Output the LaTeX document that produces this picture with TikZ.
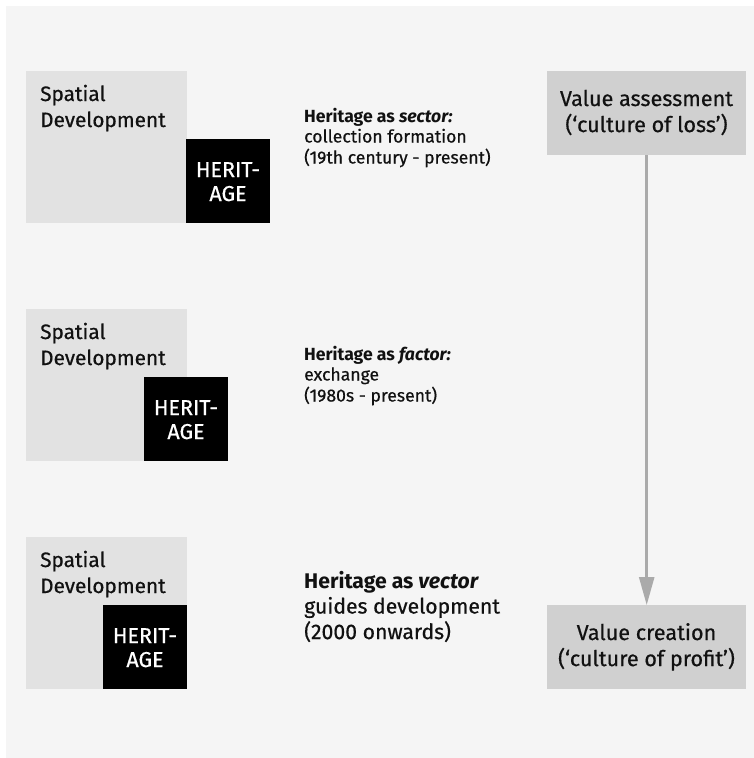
\documentclass[tikz,border=0pt]{standalone}
\usepackage{fontspec}
\setmainfont{Fira Sans}[UprightFeatures={FakeBold=0.6},ItalicFeatures={FakeBold=0.6}]
\usetikzlibrary{arrows.meta}
\definecolor{bgc}{HTML}{F5F5F5}
\definecolor{spc}{HTML}{E2E2E2}
\definecolor{valc}{HTML}{D0D0D0}
\definecolor{arrc}{HTML}{AAAAAA}
\definecolor{txtc}{HTML}{111111}
\newcommand\mlines[2]{\begin{tabular}[t]{@{}#1@{}}#2\end{tabular}}
\begin{document}
\begin{tikzpicture}[x=1pt,y=-1pt,
  spbox/.style={fill=spc,draw=none,minimum width=161pt,minimum height=152pt,inner sep=0pt,anchor=north west},
  herbox/.style={fill=black,draw=none,minimum width=84pt,minimum height=84pt,inner sep=0pt,anchor=north west},
  valbox/.style={fill=valc,draw=none,minimum width=199pt,minimum height=84pt,inner sep=0pt,anchor=north west},
  sptext/.style={anchor=base west,inner sep=0pt,text=txtc,font=\fontsize{20.8}{26}\selectfont},
  hertext/.style={anchor=base,inner sep=0pt,text=white,font=\fontsize{21.5}{24}\selectfont},
  smalltext/.style={anchor=base west,inner sep=0pt,text=txtc,font=\fontsize{17.6}{20.5}\selectfont},
  bigtext/.style={anchor=base west,inner sep=0pt,text=txtc,font=\fontsize{21.2}{25.5}\selectfont},
  valtext/.style={anchor=base,inner sep=0pt,text=txtc,font=\fontsize{21.6}{26}\selectfont},
  flow/.style={draw=arrc,line width=2.5pt,-{Triangle[length=28pt,width=15pt]}}
]
\useasboundingbox (0,0) rectangle (754,758);
\fill[bgc] (6,6) rectangle (754,758);

% row 1
\node[spbox] (sp1) at (26,71) {};
\node[herbox] (her1) at (186,139) {};
\node[sptext] (spt1) at (40,101) {\mlines{l}{Spatial\\Development}};
\node[hertext] (hert1) at (228,177) {\mlines{c}{HERIT-\\AGE}};
\node[smalltext] (ht1) at (304,122) {\mlines{l}{\textbf{Heritage as \textit{sector:}}\\collection formation\\(19th century - present)}};

% row 2
\node[spbox] (sp2) at (26,309) {};
\node[herbox] (her2) at (144,377) {};
\node[sptext] (spt2) at (40,339) {\mlines{l}{Spatial\\Development}};
\node[hertext] (hert2) at (186,415) {\mlines{c}{HERIT-\\AGE}};
\node[smalltext] (ht2) at (304,360) {\mlines{l}{\textbf{Heritage as \textit{factor:}}\\exchange\\(1980s - present)}};

% row 3
\node[spbox] (sp3) at (26,537) {};
\node[herbox] (her3) at (103,605) {};
\node[sptext] (spt3) at (40,567) {\mlines{l}{Spatial\\Development}};
\node[hertext] (hert3) at (145,643) {\mlines{c}{HERIT-\\AGE}};
\node[bigtext] (ht3) at (304,588) {\mlines{l}{\textbf{Heritage as \textit{vector}}\\guides development\\(2000 onwards)}};

% value boxes
\node[valbox] (va) at (547,71) {};
\node[valtext] (vat) at (646.5,106) {\mlines{c}{Value assessment\\(‘culture of loss’)}};
\node[valbox] (vc) at (547,605) {};
\node[valtext] (vct) at (646.5,640) {\mlines{c}{Value creation\\(‘culture of profit’)}};

\draw[flow] (va.south) -- (vc.north);
\end{tikzpicture}
\end{document}
